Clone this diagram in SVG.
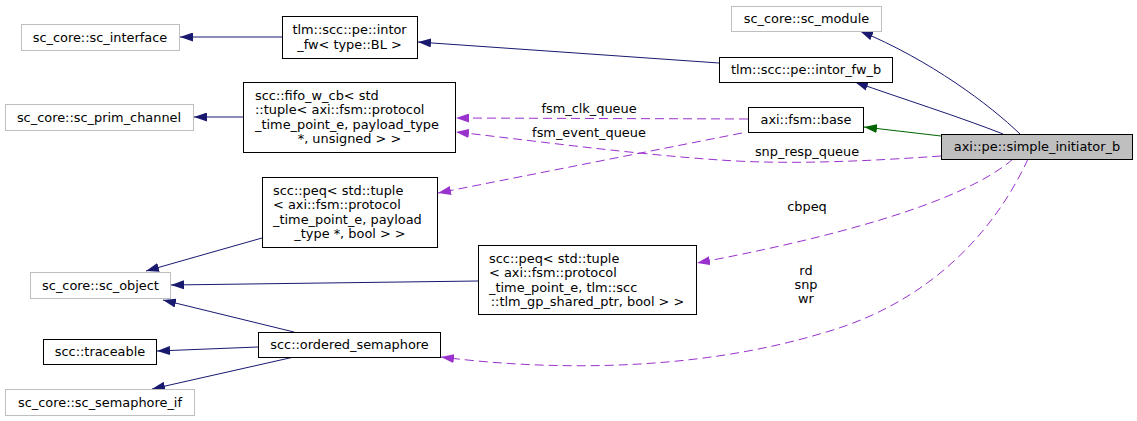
<svg xmlns="http://www.w3.org/2000/svg" width="1137" height="421" viewBox="0 0 1137 421">
<style>
text{font-family:"DejaVu Sans","Liberation Sans",sans-serif;font-size:12.9px;fill:#000}
.m{text-anchor:middle}
.g rect{fill:#fff;stroke:#bfbfbf;stroke-width:1}
.b rect{fill:#fff;stroke:#000;stroke-width:1}
.h rect{fill:#bfbfbf;stroke:#000;stroke-width:1}
.e path{fill:none;stroke-width:1}
.n{stroke:#191970;marker-end:url(#an)}
.gr{stroke:#006400;marker-end:url(#ag)}
.p{stroke:#9a32cd;stroke-dasharray:9,5;marker-end:url(#ap)}
</style>
<defs>
<marker id="an" viewBox="0 0 13 9" refX="13" refY="4.5" markerWidth="13" markerHeight="9" markerUnits="userSpaceOnUse" orient="auto"><path d="M0,0 L13,4.5 L0,9 Z" fill="#191970"/></marker>
<marker id="ag" viewBox="0 0 13 9" refX="13" refY="4.5" markerWidth="13" markerHeight="9" markerUnits="userSpaceOnUse" orient="auto"><path d="M0,0 L13,4.5 L0,9 Z" fill="#006400"/></marker>
<marker id="ap" viewBox="0 0 13 9" refX="13" refY="4.5" markerWidth="13" markerHeight="9" markerUnits="userSpaceOnUse" orient="auto"><path d="M0,0 L13,4.5 L0,9 Z" fill="#9a32cd"/></marker>
</defs>
<rect width="1137" height="421" fill="#fff"/>
<g id="edges" class="e">
<path class="n" d="M282,37 L180,37"/>
<path class="n" d="M719,63 L418,42"/>
<path class="n" d="M243,117 L194,117"/>
<path class="n" d="M262,238 L146,271"/>
<path class="n" d="M478,281 L171,285"/>
<path class="n" d="M294,332 L163,300"/>
<path class="n" d="M258,347 L157,351"/>
<path class="n" d="M294,357 L152,389"/>
<path class="n" d="M1020,134 C990,105 930,60 860,31"/>
<path class="n" d="M1003,134 C960,117 900,98 855,82"/>
<path class="gr" d="M941,136 L864,127"/>
<path class="p" d="M748,119 L456,118"/>
<path class="p" d="M742,133 L438,193"/>
<path class="p" d="M941,156 C870,161 790,165 720,160 C630,154 520,139 456,132"/>
<path class="p" d="M1013,159 C960,205 820,240 697,263"/>
<path class="p" d="M1028,159 C1000,220 940,300 823,333 C700,370 560,372 441,357"/>
<text class="m" x="589" y="113">fsm_clk_queue</text>
<text class="m" x="589" y="137">fsm_event_queue</text>
<text class="m" x="807" y="156">snp_resp_queue</text>
<text class="m" x="807" y="211">cbpeq</text>
<text class="m" x="806" y="275">rd</text>
<text class="m" x="806" y="289">snp</text>
<text class="m" x="806" y="303">wr</text>
</g>
<g id="sc_interface" class="g"><rect x="21.5" y="24.5" width="158" height="26"/><text class="m" x="100" y="41.8">sc_core::sc_interface</text></g>
<g id="intor_fw_BL" class="b"><rect x="282.5" y="16.5" width="135" height="42"/><text class="m" x="349.5" y="34">tlm::scc::pe::intor</text><text class="m" x="349.5" y="48.5">_fw&lt; type::BL &gt;</text></g>
<g id="sc_prim_channel" class="g"><rect x="5.5" y="104.5" width="188" height="26"/><text class="m" x="99" y="121.8">sc_core::sc_prim_channel</text></g>
<g id="fifo_w_cb" class="b"><rect x="243.5" y="82.5" width="212" height="70"/><text x="255" y="99.5">scc::fifo_w_cb&lt; std</text><text x="255" y="114">::tuple&lt; axi::fsm::protocol</text><text x="255" y="128.5">_time_point_e, payload_type</text><text class="m" x="349.5" y="143">*, unsigned &gt; &gt;</text></g>
<g id="peq1" class="b"><rect x="262.5" y="177.5" width="175" height="70"/><text x="273" y="194.5">scc::peq&lt; std::tuple</text><text x="273" y="209">&lt; axi::fsm::protocol</text><text x="273" y="223.5">_time_point_e, payload</text><text class="m" x="350" y="238">_type *, bool &gt; &gt;</text></g>
<g id="sc_object" class="g"><rect x="30.5" y="272.5" width="140" height="26"/><text class="m" x="100.5" y="289.8">sc_core::sc_object</text></g>
<g id="traceable" class="b"><rect x="43.5" y="339.5" width="113" height="25"/><text class="m" x="100" y="356.3">scc::traceable</text></g>
<g id="ordered_semaphore" class="b"><rect x="258.5" y="332.5" width="182" height="25"/><text class="m" x="349.5" y="349.3">scc::ordered_semaphore</text></g>
<g id="sc_semaphore_if" class="g"><rect x="5.5" y="389.5" width="189" height="26"/><text class="m" x="100" y="406.8">sc_core::sc_semaphore_if</text></g>
<g id="sc_module" class="g"><rect x="731.5" y="6.5" width="150" height="25"/><text class="m" x="806.5" y="23.3">sc_core::sc_module</text></g>
<g id="intor_fw_b" class="b"><rect x="719.5" y="57.5" width="173" height="25"/><text class="m" x="806" y="74.3">tlm::scc::pe::intor_fw_b</text></g>
<g id="fsm_base" class="b"><rect x="748.5" y="107.5" width="115" height="25"/><text class="m" x="806" y="124.3">axi::fsm::base</text></g>
<g id="simple_initiator_b" class="h"><rect x="941.5" y="134.5" width="191" height="25"/><text class="m" x="1037" y="151.3">axi::pe::simple_initiator_b</text></g>
<g id="peq2" class="b"><rect x="478.5" y="245.5" width="218" height="69"/><text x="489" y="262.5">scc::peq&lt; std::tuple</text><text x="489" y="277">&lt; axi::fsm::protocol</text><text x="489" y="291.5">_time_point_e, tlm::scc</text><text class="m" x="587.5" y="306">::tlm_gp_shared_ptr, bool &gt; &gt;</text></g>
</svg>
